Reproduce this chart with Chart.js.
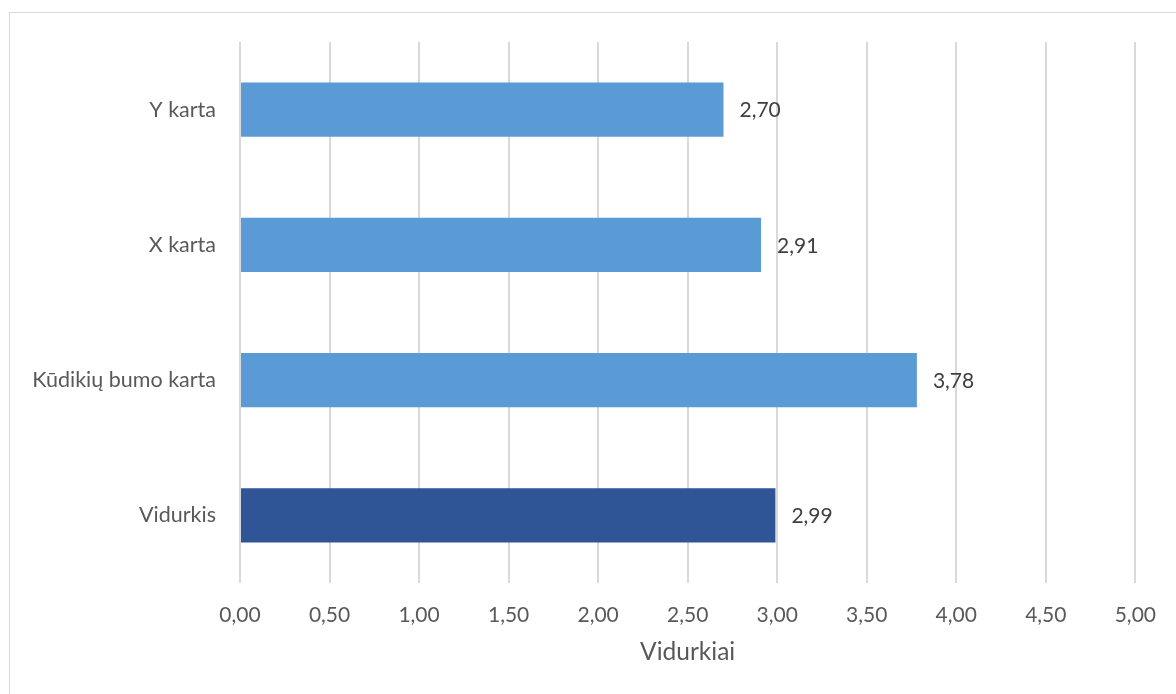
<!DOCTYPE html>
<html>
<head>
<meta charset="utf-8">
<script src="https://cdn.jsdelivr.net/npm/chart.js@4.4.0/dist/chart.umd.min.js"></script>
<style>
html,body{margin:0;padding:0;background:#fff;}
#wrap{width:1176px;height:694px;position:relative;}
</style>
</head>
<body>
<div id="wrap"><canvas id="c" width="1176" height="694"></canvas></div>
<script>
const categories = ["Y karta", "X karta", "Kūdikių bumo karta", "Vidurkis"];
const values = [2.70, 2.91, 3.78, 2.99];
const barColors = ["#5B9BD5", "#5B9BD5", "#5B9BD5", "#2F5597"];
const axisTitle = "Vidurkiai";
const xMin = 0, xMax = 5, xStep = 0.5;

const fmt = v => v.toFixed(2).replace('.', ',');
const FONT = "Lato, 'Open Sans', sans-serif";

const borderPlugin = {
  id: 'frame',
  beforeDraw(chart) {
    const ctx = chart.ctx;
    ctx.save();
    ctx.fillStyle = '#fff';
    ctx.fillRect(0, 0, chart.width, chart.height);
    ctx.strokeStyle = '#d9d9d9';
    ctx.lineWidth = 1;
    ctx.strokeRect(9.5, 12.5, chart.width + 20, chart.height + 20);
    ctx.restore();
  }
};

const valueLabels = {
  id: 'valueLabels',
  afterDatasetsDraw(chart) {
    const ctx = chart.ctx;
    const meta = chart.getDatasetMeta(0);
    ctx.save();
    ctx.font = "21px " + FONT;
    ctx.fillStyle = '#404040';
    ctx.textAlign = 'left';
    ctx.textBaseline = 'middle';
    meta.data.forEach((bar, i) => {
      ctx.fillText(fmt(values[i]), bar.x + 16, bar.y + 1);
    });
    ctx.restore();
  }
};

new Chart(document.getElementById('c'), {
  type: 'bar',
  data: {
    labels: categories,
    datasets: [{
      data: values,
      backgroundColor: barColors,
      borderWidth: 0,
      barPercentage: 0.4,
      categoryPercentage: 1.0
    }]
  },
  plugins: [borderPlugin, valueLabels],
  options: {
    indexAxis: 'y',
    responsive: false,
    animation: false,
    devicePixelRatio: 1,
    layout: { padding: { top: 42, right: 38, bottom: 0, left: 0 } },
    plugins: { legend: { display: false }, tooltip: { enabled: false } },
    scales: {
      x: {
        min: xMin, max: xMax,
        grid: { color: '#d9d9d9', lineWidth: 2, drawTicks: false },
        border: { display: false },
        ticks: {
          stepSize: xStep,
          padding: 20,
          color: '#595959',
          font: { family: FONT, size: 21 },
          callback: v => fmt(v)
        },
        title: {
          display: true,
          text: axisTitle,
          color: '#595959',
          font: { family: FONT, size: 24.5 },
          padding: { top: 0, bottom: 27 }
        },
        afterFit(scale) { scale.height = 694 - 583; }
      },
      y: {
        grid: { display: false, drawTicks: false },
        border: { display: false },
        ticks: {
          padding: 24,
          color: '#595959',
          font: { family: FONT, size: 21.5 }
        },
        afterFit(scale) { scale.width = 240; }
      }
    }
  }
});
</script>
</body>
</html>
